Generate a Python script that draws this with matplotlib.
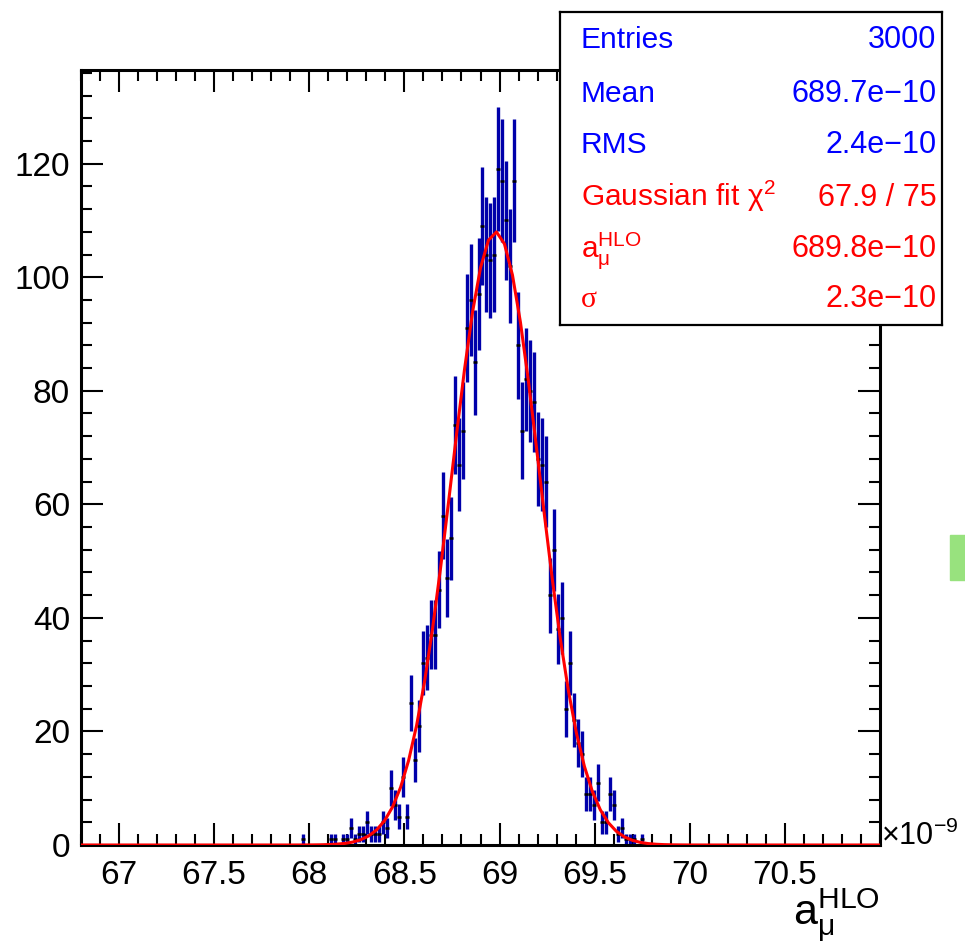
import numpy as np
import matplotlib
matplotlib.use('Agg')
import matplotlib.pyplot as plt
from matplotlib.patches import Rectangle
from matplotlib.ticker import MultipleLocator, FixedLocator, FuncFormatter

plt.rcParams['font.family'] = ['Liberation Sans', 'DejaVu Sans']
plt.rcParams['mathtext.fontset'] = 'custom'
plt.rcParams['mathtext.rm'] = 'Liberation Sans'
plt.rcParams['mathtext.it'] = 'Liberation Sans:italic'
plt.rcParams['mathtext.bf'] = 'Liberation Sans:bold'

# histogram binning, x in units of 1e-9
x_min, x_max, n_bins = 66.8, 71.0, 200
first_bin = 55
# bin contents, starting at bin index first_bin
counts = [1, 0, 0, 0, 0, 0, 0, 1, 1, 0, 1, 1, 3, 1, 2, 2, 4, 2, 2, 2,
          4, 3, 10, 7, 5, 12, 5, 25, 15, 21, 32, 33, 37, 37, 45, 58, 47, 54,
          74, 67, 73, 91, 96, 85, 97, 109, 104, 103, 104, 119, 117, 110, 102,
          117, 88, 73, 82, 80, 78, 68, 67, 64, 44, 52, 38, 40, 24, 32, 22,
          18, 16, 9, 9, 7, 11, 4, 4, 9, 7, 2, 3, 1, 1, 1, 0, 1]

# gaussian fit result
fit_const = 108.0
fit_mean = 68.98
fit_sigma = 0.23

# stats box
blue_names = ['Entries', 'Mean', 'RMS']
blue_values = ['3000', '689.7e\u221210', '2.4e\u221210']
red_names = [r'Gaussian fit $\mathrm{\chi}^{2}$', r'$\mathrm{a}_{\mathrm{\mu}}^{\mathrm{HLO}}$', '\u03c3']
red_values = ['67.9 / 75', '689.8e\u221210', '2.3e\u221210']

x_ticks = [67, 67.5, 68, 68.5, 69, 69.5, 70, 70.5]

W, H = 965, 946
fig = plt.figure(figsize=(W / 100, H / 100), dpi=100)
ax = fig.add_axes([81 / W, (H - 845) / H, 799 / W, 775 / H])

edges = np.linspace(x_min, x_max, n_bins + 1)
centers = 0.5 * (edges[:-1] + edges[1:])
x = centers[first_bin:first_bin + len(counts)]
y = np.array(counts, dtype=float)
keep = y > 0
x, y = x[keep], y[keep]
err = np.sqrt(y)

ax.vlines(x, y - err, y + err, color='#0000aa', lw=2.4, zorder=2)
ax.plot(x, y, ls='none', marker='_', ms=3.5, mew=1.8, color='black', zorder=3)

xf = np.linspace(x_min, x_max, 101)
yf = fit_const * np.exp(-0.5 * ((xf - fit_mean) / fit_sigma) ** 2)
ax.plot(xf, yf, color='red', lw=2.2, zorder=4)

ax.set_xlim(x_min, x_max)
ax.set_ylim(0, 136.5)
ax.xaxis.set_major_locator(FixedLocator(x_ticks))
ax.xaxis.set_minor_locator(MultipleLocator(0.1))
ax.xaxis.set_major_formatter(FuncFormatter(lambda v, p: '%g' % v))
ax.yaxis.set_major_locator(MultipleLocator(20))
ax.yaxis.set_minor_locator(MultipleLocator(4))
ax.tick_params(which='both', direction='in', top=True, right=True,
               width=1.5, labelsize=24)
ax.tick_params(which='major', length=16)
ax.tick_params(which='minor', length=8)
ax.tick_params(axis='x', pad=11)
ax.tick_params(axis='y', pad=8)
for s in ax.spines.values():
    s.set_linewidth(2.2)

fig.text(881 / W, (H - 845) / H, r'$\times\mathrm{10}^{\mathrm{-9}}$',
         fontsize=22, ha='left', va='baseline')
fig.text(880 / W, (H - 925) / H, r'$\mathrm{a}_{\mathrm{\mu}}^{\mathrm{HLO}}$',
         fontsize=31, ha='right', va='baseline')

# stats box on top of the frame
bax = fig.add_axes([560 / W, (H - 325) / H, 382 / W, 313 / H], zorder=5)
bax.set_xticks([])
bax.set_yticks([])
for s in bax.spines.values():
    s.set_linewidth(1.6)
rows_y = [0.885, 0.7125, 0.5495, 0.38, 0.217, 0.0575]
names = blue_names + red_names
values = blue_values + red_values
colors = ['blue'] * 3 + ['red'] * 3
for ry, n, v, c in zip(rows_y, names, values, colors):
    fam = ['Liberation Serif'] if n == '\u03c3' else None
    bax.text(0.054, ry, n, color=c, fontsize=21.5, ha='left', va='baseline',
             transform=bax.transAxes, family=fam)
    bax.text(0.986, ry, v, color=c, fontsize=22, ha='right', va='baseline',
             transform=bax.transAxes)

fig.add_artist(Rectangle((950 / W, (H - 580) / H), 15 / W, 45 / H,
                         transform=fig.transFigure, color='#98e27e'))

fig.savefig('out.png', dpi=100)
